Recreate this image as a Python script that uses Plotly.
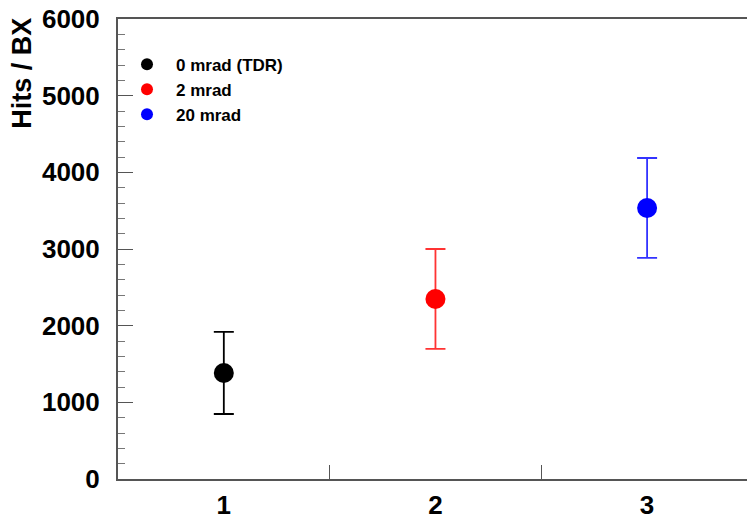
import plotly.graph_objects as go

labels = ["0 mrad (TDR)", "2 mrad", "20 mrad"]
x_pos = [1, 2, 3]
hits = [1383, 2348, 3535]
errs = [535, 652, 652]
colors = ["#000000", "#ff0000", "#0000ff"]
err_colors = ["#000000", "#ff3333", "#3333ff"]
x_ticks = [1, 2, 3]
x_tick_text = ["1", "2", "3"]
y_ticks = [0, 1000, 2000, 3000, 4000, 5000, 6000]

fig = go.Figure()
for i in range(len(labels)):
    fig.add_trace(go.Scatter(
        x=[x_pos[i]], y=[hits[i]], mode="markers", name=labels[i],
        marker=dict(color=colors[i], size=20),
        error_y=dict(type="data", array=[errs[i]], color=err_colors[i], thickness=1.8, width=10),
    ))

# dummy trace for secondary x axis ticks
fig.add_trace(go.Scatter(x=[1.5], y=[None], xaxis="x2", showlegend=False, hoverinfo="skip"))

axis_color = "#555555"
fig.update_layout(
    width=747, height=514,
    margin=dict(l=118, r=0, t=19, b=35),
    plot_bgcolor="white", paper_bgcolor="white",
    font=dict(family="Liberation Sans", color="black"),
    showlegend=True,
    legend=dict(x=0.0, y=0.94, xanchor="left", yanchor="top",
                font=dict(size=17, weight="bold", family="Liberation Sans"),
                itemsizing="constant", itemwidth=48,
                bgcolor="rgba(0,0,0,0)", tracegroupgap=0),
    xaxis=dict(range=[0.5, 3.472], tickvals=x_ticks, ticktext=x_tick_text, ticks="",
               showline=True, linecolor=axis_color, linewidth=2, mirror=True,
               showgrid=False, zeroline=False, ticklabelstandoff=2, automargin=False,
               tickfont=dict(size=26, weight="bold", family="Liberation Sans")),
    xaxis2=dict(range=[0.5, 3.472], overlaying="x", anchor="y", side="bottom",
                tickvals=[1.5, 2.5], ticks="inside", ticklen=14, tickcolor=axis_color,
                showticklabels=False, showgrid=False, zeroline=False, showline=False,
                automargin=False),
    yaxis=dict(range=[0, 6000], tickvals=y_ticks, ticks="inside", ticklen=15,
               tickcolor=axis_color, showline=True, linecolor=axis_color, linewidth=2,
               showgrid=False, zeroline=False, ticklabelstandoff=11, automargin=False,
               tickfont=dict(size=26, weight="bold", family="Liberation Sans"),
               minor=dict(dtick=200, ticks="inside", ticklen=7, tickcolor="#777777")),
)
fig.add_annotation(text="Hits / BX", xref="paper", yref="paper",
                   x=-0.152, y=0.882, xanchor="center", yanchor="middle",
                   textangle=-90, showarrow=False,
                   font=dict(size=27, weight="bold", family="Liberation Sans"))

fig.write_html("out.html")
